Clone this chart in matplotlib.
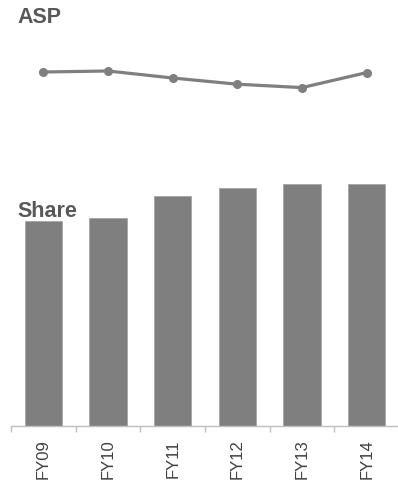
import numpy as np
import matplotlib.pyplot as plt

years = ["FY09", "FY10", "FY11", "FY12", "FY13", "FY14"]
asp = [43.5, 44.0, 40.5, 37.4, 35.7, 43.2]
share = [59.3, 60.2, 66.5, 69.0, 70.0, 70.0]

W, H = 398, 481
fig = plt.figure(figsize=(W / 100, H / 100), dpi=100)
plt.rcParams['font.family'] = ['Liberation Sans', 'DejaVu Sans']

x = np.arange(len(years))
grey = "#7f7f7f"

def box(left, top, right, bottom):
    return [left / W, (H - bottom) / H, (right - left) / W, (bottom - top) / H]

# ASP line on top
ax1 = fig.add_axes(box(11, 40, 399, 120))
ax1.plot(x, asp, color=grey, lw=2.3, marker="o", ms=5.5, solid_capstyle="round")
ax1.set_xlim(-0.5, len(years) - 0.5)
ax1.set_ylim(20, 60)
ax1.axis("off")

# share bars below
ax2 = fig.add_axes(box(11, 170, 399, 427))
ax2.bar(x, share, width=0.58, color=grey, edgecolor="#a6a6a6", linewidth=0.6)
ax2.set_xlim(-0.5, len(years) - 0.5)
ax2.set_ylim(0, 74.4)
for s in ["top", "right", "left"]:
    ax2.spines[s].set_visible(False)
ax2.spines["bottom"].set_color("#bfbfbf")
ax2.spines["bottom"].set_linewidth(1)
ax2.set_yticks([])
ax2.set_xticks(x)
ax2.set_xticklabels(years, rotation=90, fontsize=12, color="#404040")
ax2.tick_params(axis="x", which="major", length=0, pad=9)
ax2.set_xticks(np.arange(len(years) + 1) - 0.5, minor=True)
ax2.tick_params(axis="x", which="minor", length=4, color="#bfbfbf", width=1)

fig.text(17 / W, (H - 23) / H, "ASP", fontsize=15.5, fontweight="bold",
         color="#595959", va="baseline", ha="left")
fig.text(17 / W, (H - 217) / H, "Share", fontsize=15.5, fontweight="bold",
         color="#595959", va="baseline", ha="left")

fig.savefig("out.png", dpi=100)
